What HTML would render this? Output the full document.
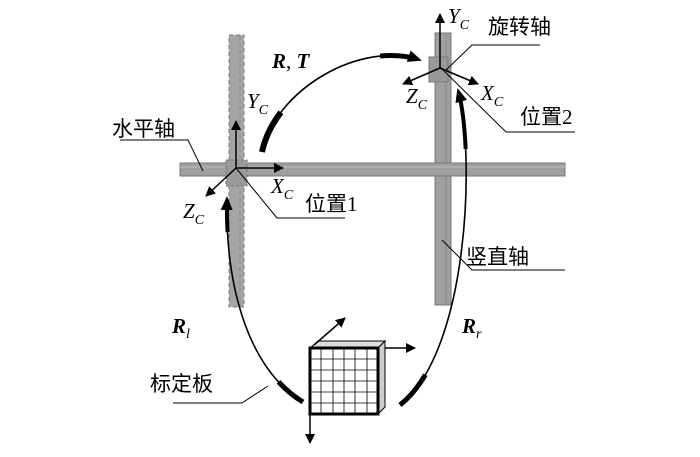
<!DOCTYPE html>
<html><head><meta charset="utf-8"><style>
body{margin:0;background:#fff}
svg{display:block}
text{font-family:"Liberation Serif","Noto Serif CJK SC",serif;fill:#000}
.cn{font-family:"Liberation Serif","Noto Sans CJK SC",sans-serif;font-size:21px}
.it{font-style:italic;font-size:21px}
</style></head><body>
<svg width="700" height="457" viewBox="0 0 700 457" xmlns="http://www.w3.org/2000/svg">
<defs>
<marker id="ah" markerWidth="10" markerHeight="10" refX="9" refY="5" orient="auto" markerUnits="userSpaceOnUse"><path d="M0,0 L10,5 L0,10 z" fill="#000"/></marker>
<marker id="ab" markerWidth="14" markerHeight="12" refX="12" refY="6" orient="auto" markerUnits="userSpaceOnUse"><path d="M0,0 L14,6 L0,12 z" fill="#000"/></marker>
</defs>
<rect x="229" y="35" width="15" height="272" fill="#a5a5a5" stroke="#777" stroke-dasharray="4,3"/>
<line x1="240" y1="36" x2="240" y2="306" stroke="#888" stroke-dasharray="4,3"/>
<rect x="435" y="33" width="16" height="272" fill="#a0a0a0" stroke="#777"/>
<line x1="446" y1="33" x2="446" y2="305" stroke="#888"/>
<rect x="180" y="163" width="385" height="13" fill="#a0a0a0" stroke="#777"/>
<line x1="180" y1="167" x2="565" y2="167" stroke="#bbb"/>
<rect x="226" y="160" width="21" height="26" fill="#9a9a9a" stroke="#777" stroke-dasharray="3,2"/>
<rect x="429" y="57" width="19" height="25" fill="#999" stroke="#777"/>
<g stroke="#000" stroke-width="1.5">
<line x1="236" y1="168" x2="236" y2="121" marker-end="url(#ah)"/>
<line x1="236" y1="168" x2="283" y2="168" marker-end="url(#ah)"/>
<line x1="236" y1="168" x2="206" y2="196" marker-end="url(#ah)"/>
<line x1="440" y1="68" x2="440" y2="14" marker-end="url(#ah)"/>
<line x1="440" y1="68" x2="403" y2="84" marker-end="url(#ah)"/>
<line x1="440" y1="68" x2="478" y2="84" marker-end="url(#ah)"/>
</g>
<g stroke="#000" stroke-width="1" fill="none">
<polyline points="120,140 188,140 203,171"/>
<polyline points="236,168 277,218 345,218"/>
<polyline points="442,240 472,270 565,270"/>
<polyline points="440,67 506,132 575,132"/>
<polyline points="446,70 472,45 540,45"/>
<polyline points="173,403 242,403 268,386"/>
</g>
<g fill="none" stroke="#000">
<path d="M262,152 C275,90 360,40 420,60" stroke-width="1.6" marker-end="url(#ab)"/>
<path d="M262,152 C275,90 360,40 420,60" pathLength="100" stroke-width="6" stroke-dasharray="22 200"/>
<path d="M262,152 C275,90 360,40 420,60" pathLength="100" stroke-width="5" stroke-dasharray="0 80 18 10"/>
<path d="M303,402 C250,370 225,290 227,198" stroke-width="1.6" marker-end="url(#ab)"/>
<path d="M303,402 C250,370 225,290 227,198" pathLength="100" stroke-width="5" stroke-dasharray="14 200"/>
<path d="M303,402 C250,370 225,290 227,198" pathLength="100" stroke-width="4" stroke-dasharray="0 85 13 10"/>
<path d="M400,405 C470,350 475,150 458,90" stroke-width="1.6" marker-end="url(#ab)"/>
<path d="M400,405 C470,350 475,150 458,90" pathLength="100" stroke-width="5" stroke-dasharray="12 200"/>
<path d="M400,405 C470,350 475,150 458,90" pathLength="100" stroke-width="4" stroke-dasharray="0 82 16 10"/>
</g>
<polygon points="310,348 318,341 385,341 378,348" fill="#ddd" stroke="#000"/>
<polygon points="378,348 385,341 385,407 378,414" fill="#ccc" stroke="#000"/>
<rect x="310" y="348" width="68" height="66" fill="#fff" stroke="#000" stroke-width="3"/>
<g stroke="#000" stroke-width="0.8">
<line x1="321" y1="348" x2="321" y2="414"/><line x1="333" y1="348" x2="333" y2="414"/><line x1="344" y1="348" x2="344" y2="414"/><line x1="355" y1="348" x2="355" y2="414"/><line x1="367" y1="348" x2="367" y2="414"/>
<line x1="310" y1="359" x2="378" y2="359"/><line x1="310" y1="370" x2="378" y2="370"/><line x1="310" y1="381" x2="378" y2="381"/><line x1="310" y1="392" x2="378" y2="392"/><line x1="310" y1="403" x2="378" y2="403"/>
</g>
<g stroke="#000" stroke-width="1.5">
<line x1="314" y1="345" x2="345" y2="318" marker-end="url(#ah)"/>
<line x1="385" y1="348" x2="415" y2="348" marker-end="url(#ah)"/>
<line x1="310" y1="414" x2="310" y2="443" marker-end="url(#ah)"/>
</g>
<text class="cn" x="112" y="136">水平轴</text>
<text class="cn" x="305" y="211">位置1</text>
<text class="cn" x="520" y="124">位置2</text>
<text class="cn" x="488" y="34">旋转轴</text>
<text class="cn" x="466" y="264">竖直轴</text>
<text class="cn" x="150" y="391">标定板</text>
<text class="it" x="247" y="108">Y<tspan font-size="14" dy="6">C</tspan></text>
<text class="it" x="271" y="193">X<tspan font-size="14" dy="6">C</tspan></text>
<text class="it" x="183" y="218">Z<tspan font-size="14" dy="6">C</tspan></text>
<text class="it" x="448" y="23">Y<tspan font-size="14" dy="6">C</tspan></text>
<text class="it" x="406" y="103">Z<tspan font-size="14" dy="6">C</tspan></text>
<text class="it" x="481" y="100">X<tspan font-size="14" dy="6">C</tspan></text>
<text x="272" y="68" font-size="21" font-weight="bold" font-style="italic">R<tspan font-weight="normal" font-style="normal">, </tspan>T</text>
<text x="172" y="333" font-size="21" font-weight="bold" font-style="italic">R<tspan font-size="14" dy="5" font-weight="normal">l</tspan></text>
<text x="462" y="333" font-size="21" font-weight="bold" font-style="italic">R<tspan font-size="14" dy="5" font-weight="normal">r</tspan></text>
</svg>
</body></html>
